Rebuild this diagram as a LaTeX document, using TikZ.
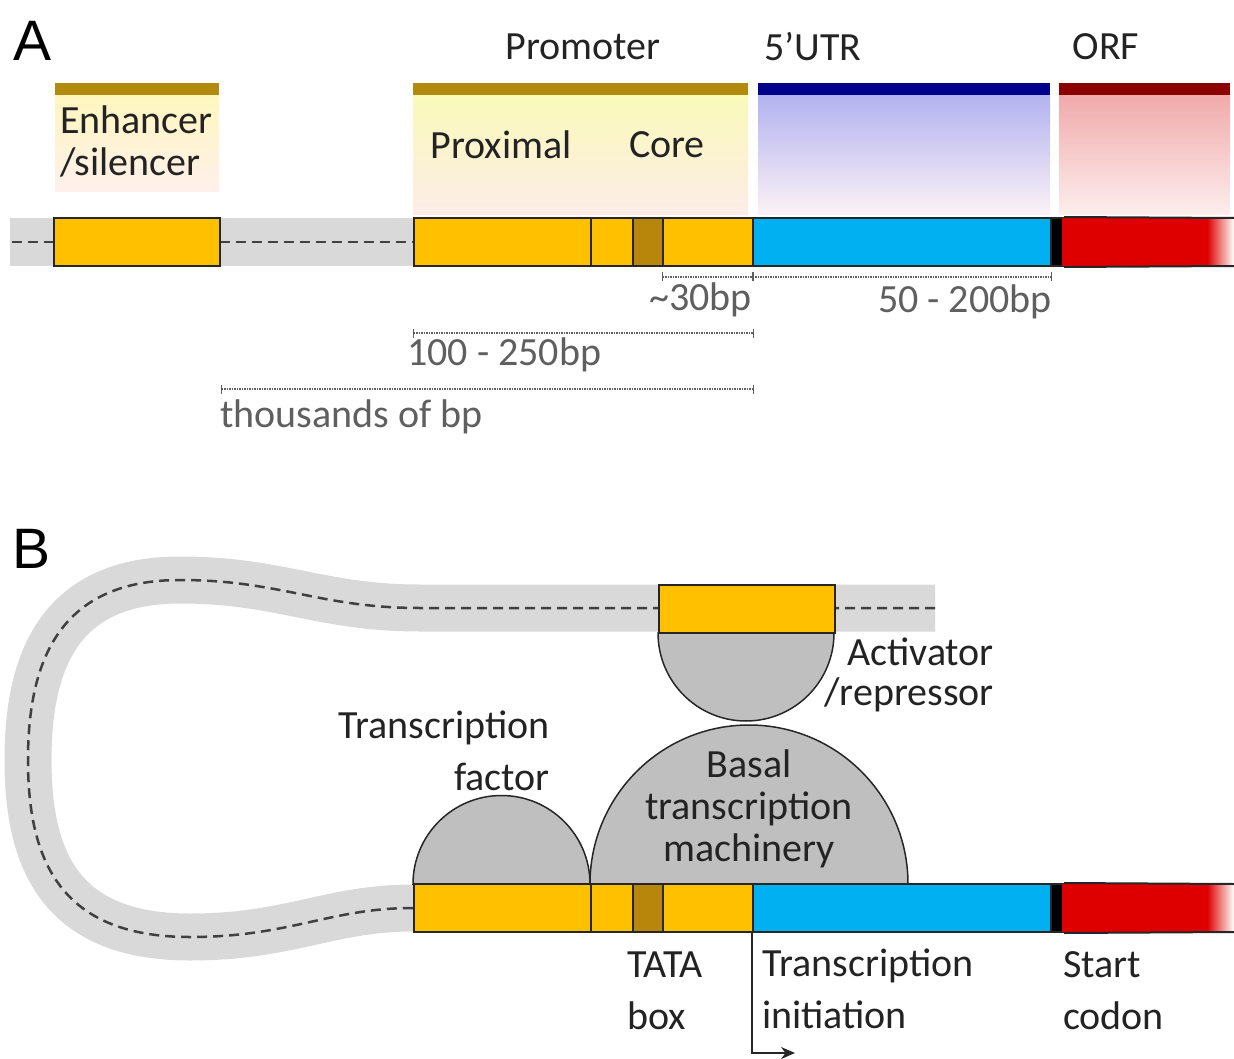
\documentclass[tikz,border=0pt]{standalone}
\usepackage{fontspec}
\setmainfont{Carlito}
\newfontfamily\panelfont{Liberation Sans}
\usetikzlibrary{arrows.meta,positioning}

\definecolor{goldbar}{RGB}{178,138,14}
\definecolor{seggold}{RGB}{255,192,0}
\definecolor{tatabox}{RGB}{184,134,11}
\definecolor{utrblue}{RGB}{0,176,240}
\definecolor{orfred}{RGB}{222,0,0}
\definecolor{darkblue}{RGB}{0,0,140}
\definecolor{darkred}{RGB}{140,0,0}
\definecolor{bandgray}{RGB}{217,217,217}
\definecolor{protgray}{RGB}{191,191,191}
\definecolor{dimgray}{RGB}{95,95,95}
\definecolor{txt}{RGB}{35,35,35}
\definecolor{enhtop}{RGB}{255,246,190}
\definecolor{enhbot}{RGB}{255,240,236}
\definecolor{promtop}{RGB}{250,250,185}
\definecolor{prombot}{RGB}{252,236,232}
\definecolor{utrtop}{RGB}{178,178,240}
\definecolor{utrmid}{RGB}{205,196,236}
\definecolor{utrbot}{RGB}{252,242,245}
\definecolor{orftop}{RGB}{240,170,170}
\definecolor{orfmid}{RGB}{246,200,200}
\definecolor{orfbot}{RGB}{253,238,238}

\begin{document}
\begin{tikzpicture}
	[x=1pt,y=-1pt,
	seg/.style={draw=black!85,line width=2pt,minimum height=48pt,
		inner sep=0pt,anchor=west},
	band/.style={bandgray,line width=47pt},
	strand/.style={black!75,line width=2.5pt,dash pattern=on 10pt off 6pt},
	topbar/.style={line width=12pt},
	prot/.style={draw=black!85,fill=protgray,line width=1.5pt},
	dim/.style={dimgray,line width=1.5pt,densely dotted,
		{Bar[width=9pt,line width=1.2pt]}-{Bar[width=9pt,line width=1.2pt]}},
	lab/.style={text=txt,font=\fontsize{40}{42}\selectfont,inner sep=0pt},
	dimlab/.style={text=dimgray,font=\fontsize{40}{42}\selectfont,inner sep=0pt},
	panel/.style={font=\panelfont\fontsize{57}{57}\selectfont,inner sep=0pt}]
	\useasboundingbox (0,0) rectangle (1234,1059);

	%panel A: regions
	\shade[top color=enhtop,bottom color=enhbot] (55,95) rectangle (219,192);
	\shade[top color=promtop,bottom color=prombot] (413,95) rectangle (748,215);
	\shade[top color=utrtop,middle color=utrmid,bottom color=utrbot] (758,95) rectangle (1050,215);
	\shade[top color=orftop,middle color=orfmid,bottom color=orfbot] (1059,95) rectangle (1230,215);
	\draw[topbar,goldbar] (55,89) -- (219,89);
	\draw[topbar,goldbar] (413,89) -- (748,89);
	\draw[topbar,darkblue] (758,89) -- (1050,89);
	\draw[topbar,darkred] (1059,89) -- (1230,89);

	%panel A: strand
	\fill[bandgray] (10,218) rectangle (413,266);
	\draw[strand] (12,242) -- (413,242);
	\node[seg,fill=seggold,minimum width=166] (enh) at (53,242) {};

	%panel B: loop
	\draw[band] (935,608) -- (420,608) .. controls (320,608) and (280,580) .. (180,580)
		.. controls (60,580) and (28,660) .. (28,760)
		.. controls (28,860) and (60,937) .. (190,937)
		.. controls (290,937) and (330,908) .. (413,908);
	\draw[strand] (935,608) -- (420,608) .. controls (320,608) and (280,580) .. (180,580)
		.. controls (60,580) and (28,660) .. (28,760)
		.. controls (28,860) and (60,937) .. (190,937)
		.. controls (290,937) and (330,908) .. (413,908);
	\node[seg,fill=seggold,minimum width=176] (act) at (658,609) {};

	%proteins
	\draw[prot] (658,633) arc(180:0:88) -- cycle;
	\draw[prot] (413,884) arc(180:360:88.5) -- cycle;
	\draw[prot] (590,884) arc(180:360:159) -- cycle;

	%gene, both panels
	\foreach \yy/\r in {242/a,908/b}{
		\node[seg,fill=seggold,minimum width=177] (prox\r) at (413,\yy) {};
		\node[seg,fill=seggold,minimum width=42] (cora\r) at (590,\yy) {};
		\node[seg,fill=tatabox,minimum width=30] (tata\r) at (632,\yy) {};
		\node[seg,fill=seggold,minimum width=90] (corb\r) at (662,\yy) {};
		\node[seg,fill=utrblue,minimum width=298] (utr\r) at (752,\yy) {};
		\node[seg,fill=black,minimum width=12] (start\r) at (1050,\yy) {};
		\fill[orfred] (1062,\yy-24) rectangle (1208,\yy+24);
		\shade[left color=orfred,right color=white] (1207,\yy-24) rectangle (1234,\yy+24);
		\draw[black!85,line width=2pt] (start\r.north east) -- (1234,\yy-24)
			(start\r.south east) -- (1234,\yy+24);
	}

	%lengths
	\draw[dim] ([yshift=-10pt]corba.south west) -- ([yshift=-10pt]corba.south east);
	\draw[dim] ([yshift=-10pt]utra.south west) -- ([yshift=-10pt]utra.south east);
	\draw[dim] ([yshift=-66pt]proxa.south west) -- ([yshift=-66pt]corba.south east);
	\draw[dim] ([yshift=-122pt]enh.south east) -- ([yshift=-122pt]corba.south east);

	%transcription start
	\coordinate (tss) at (795,1053);
	\draw[black!85,line width=2pt,-{Stealth[length=14pt,width=12pt]}] (utrb.south west) |- (tss);

	%labels A
	\node[panel] (lblA) at (33,41) {A};
	\node[lab] (promlab) at (583,47) {Promoter};
	\node[lab,anchor=west] (utrlab) at (764,47) {5’UTR};
	\node[lab] (orflab) at (1106,47) {ORF};
	\node[lab,anchor=west,align=left] (enhlab) at (60,141) {Enhancer\\/silencer};
	\node[lab] (proxlab) at (501,145) {Proximal};
	\node[lab] (corelab) at (667,145) {Core};
	\node[dimlab,anchor=east] (l30) at (752,300) {\textasciitilde30bp};
	\node[dimlab,anchor=east] (l50) at (1052,302) {50 - 200bp};
	\node[dimlab,anchor=west] (l100) at (407,355) {100 - 250bp};
	\node[dimlab,anchor=west] (lkb) at (220,417) {thousands of bp};

	%labels B
	\node[panel] (lblB) at (32,549) {B};
	\node[lab,align=right,anchor=east,font=\fontsize{40}{52}\selectfont] (tflab) at (550,751) {Transcription\\factor};
	\node[lab,align=right,anchor=east,font=\fontsize{40}{40}\selectfont] (actlab) at (994,675) {Activator\\/repressor};
	\node[lab,align=center] (baslab) at (749,809) {Basal\\transcription\\machinery};
	\node[lab,align=left,anchor=west,font=\fontsize{40}{52}\selectfont] (tatalab) at (627,991) {TATA\\box};
	\node[lab,align=left,anchor=west,font=\fontsize{40}{52}\selectfont] (tsslab) at (762,989) {Transcription\\initiation};
	\node[lab,align=left,anchor=west,font=\fontsize{40}{52}\selectfont] (startlab) at (1063,991) {Start\\codon};
\end{tikzpicture}
\end{document}
